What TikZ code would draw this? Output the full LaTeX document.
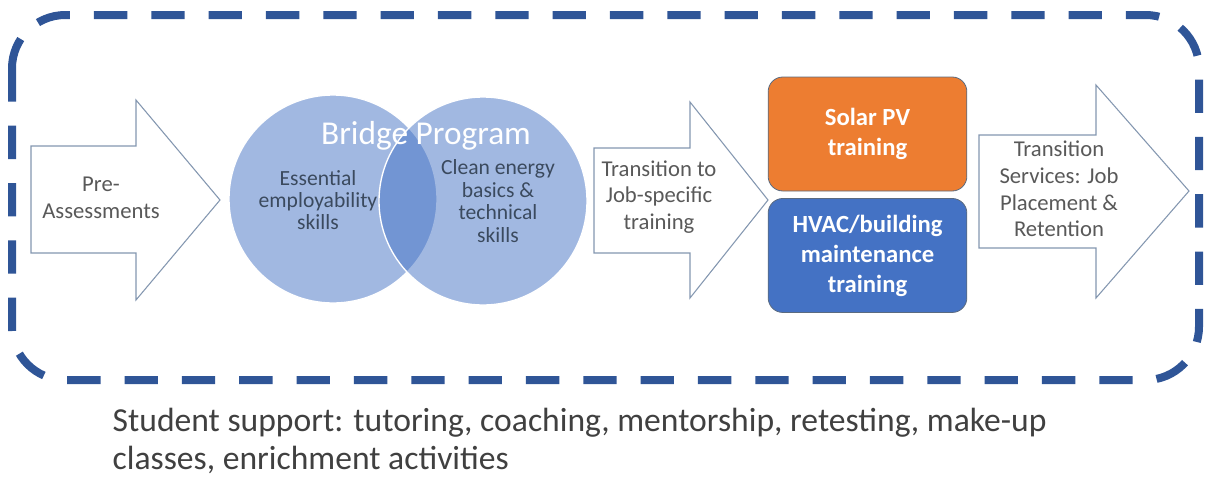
\documentclass[tikz,border=0pt]{standalone}
\usepackage{fontspec}
\setmainfont{Carlito}
\usetikzlibrary{positioning}

\definecolor{frameblue}{HTML}{2F5597}
\definecolor{vennblue}{HTML}{4472C4}
\definecolor{solarorange}{HTML}{ED7D31}
\definecolor{hvacblue}{HTML}{4472C4}
\definecolor{arrowgray}{HTML}{8497B0}
\definecolor{boxedge}{HTML}{5B6B80}
\definecolor{venntext}{HTML}{3B4A5E}
\definecolor{arrowtext}{HTML}{595959}
\definecolor{notetext}{HTML}{404040}

\tikzset{
	frame/.style={
		draw=frameblue,
		line width=6pt,
		dash pattern=on 25pt off 18pt,
		rounded corners=40pt
	},
	blockarrow/.style={
		draw=arrowgray,
		fill=white,
		line width=0.8pt,
		line join=miter
	},
	venn/.style={
		circle,
		minimum size=156pt,
		inner sep=0pt,
		fill=vennblue,
		fill opacity=0.5,
		draw=white,
		line width=1pt
	},
	trainbox/.style={
		rectangle,
		rounded corners=11pt,
		minimum width=149pt,
		minimum height=85.5pt,
		draw=boxedge,
		line width=0.6pt,
		text=white,
		align=center,
		font=\fontsize{18.5}{22.5}\selectfont\bfseries
	},
	steptext/.style={
		text=arrowtext,
		align=center,
		font=\fontsize{17}{20}\selectfont
	},
	venntext/.style={
		text=venntext,
		align=center,
		font=\fontsize{16.2}{16.8}\selectfont
	}
}

\begin{document}
\begin{tikzpicture}[x=0.75pt, y=-0.75pt]
	\useasboundingbox (0,0) rectangle (1206,476);

	% dashed outline round the whole programme
	\draw [frame] (12,15) rectangle (1199,380);

	% block arrows
	\draw [blockarrow] (31,146) -- (136,146) -- (136,100) -- (220,200)
		-- (136,300) -- (136,253) -- (31,253) -- cycle;
	\draw [blockarrow] (594,148) -- (690,148) -- (690,102) -- (768,200)
		-- (690,298) -- (690,253) -- (594,253) -- cycle;
	\draw [blockarrow] (979,135) -- (1096,135) -- (1096,85) -- (1189,191)
		-- (1096,298) -- (1096,248) -- (979,248) -- cycle;

	\node (pre) [steptext] at (101,198) {Pre-\\Assessments};
	\node (transition) [steptext] at (659,197) {Transition to\\Job-specific\\training};
	\node (services) [steptext] at (1059,189) {Transition\\Services: Job\\Placement \&\\Retention};

	% bridge programme
	\node (essential) [venn] at (333,199) {};
	\node (clean) [venn] at (483,201) {};
	\node (bridge) [text=white, font=\fontsize{25}{28}\selectfont] at (426,136) {Bridge Program};
	\node (essentialtext) [venntext] at (318,200) {Essential\\employability\\skills};
	\node (cleantext) [venntext] at (498,201) {Clean energy\\basics \&\\technical\\skills};

	% job-specific training
	\node (solar) [trainbox, fill=solarorange] at (867.5,134) {Solar PV\\training};
	\node (hvac) [trainbox, fill=hvacblue, below=5pt of solar] {HVAC/building\\maintenance\\training};

	\node (support) [anchor=west, text=notetext, align=left,
		font=\fontsize{25.2}{28.5}\selectfont] at (108,441)
		{Student support: tutoring, coaching, mentorship, retesting, make-up\\classes, enrichment activities};
\end{tikzpicture}
\end{document}
